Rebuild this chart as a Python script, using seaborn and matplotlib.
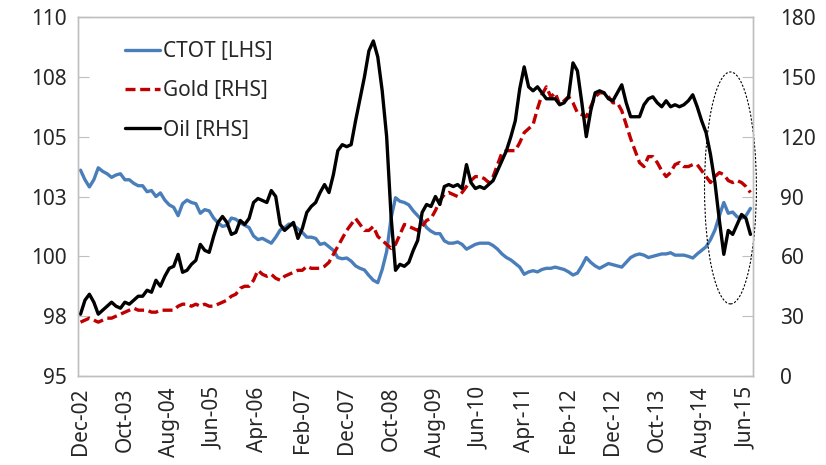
import numpy as np
import pandas as pd
import seaborn as sns
import matplotlib.pyplot as plt
from matplotlib.patches import Ellipse

# monthly series, Dec-02 .. Jul-15 (152 months)
ctot = [103.6, 103.2, 102.9, 103.2, 103.7, 103.55, 103.45, 103.3, 103.4, 103.45,
        103.2, 103.2, 103.05, 102.95, 102.95, 102.7, 102.75, 102.5, 102.65, 102.35,
        102.15, 102.05, 101.7, 102.2, 102.35, 102.25, 102.2, 101.8, 101.95, 101.9,
        101.6, 101.4, 101.25, 101.3, 101.6, 101.55, 101.4, 101.3, 101.2, 100.85,
        100.7, 100.75, 100.65, 100.55, 100.8, 101.1, 101.2, 101.35, 101.3, 101.15,
        101.0, 100.8, 100.8, 100.75, 100.5, 100.55, 100.4, 100.25, 99.95, 99.9,
        99.93, 99.8, 99.6, 99.5, 99.43, 99.2, 99.0, 98.9, 99.45, 100.2,
        101.6, 102.45, 102.3, 102.25, 102.15, 101.9, 101.7, 101.5, 101.2, 101.05,
        100.95, 100.95, 100.65, 100.55, 100.55, 100.6, 100.5, 100.3, 100.4, 100.5,
        100.55,
        100.55, 100.55, 100.45, 100.3, 100.1, 99.95, 99.85, 99.7, 99.55, 99.25,
        99.35, 99.4, 99.35, 99.45, 99.5, 99.5, 99.55, 99.5, 99.45, 99.35,
        99.22, 99.3, 99.6, 99.95, 99.75, 99.6, 99.5, 99.6, 99.7, 99.65,
        99.6, 99.55, 99.75, 99.95, 100.05, 100.1, 100.05, 99.95, 100.0, 100.05,
        100.1, 100.1, 100.15, 100.05, 100.05, 100.05, 100.0, 99.93, 100.1, 100.25,
        100.4, 100.7, 101.1, 101.7, 102.25, 101.8, 101.85, 101.65, 101.6, 101.7, 102.0]

gold = [27, 28, 29, 28, 27, 28, 29, 29, 30, 31,
        32, 33, 34, 33, 33, 33, 32, 32, 33, 33,
        33, 33, 35, 36, 36, 35, 36, 35, 36, 35,
        35, 36, 37, 38, 40, 41, 44, 45, 45, 48,
        53, 51, 50, 51, 49, 48, 50, 51, 52, 53,
        53, 55, 54, 54, 54, 55, 57, 61, 65, 69,
        73, 76, 79, 76, 73, 73, 75, 70, 68, 66,
        64, 66, 71, 76, 75, 74, 73, 75, 78, 79,
        83, 88, 91, 92, 91, 90, 92, 95, 98, 100,
        100,
        99, 97, 100, 106, 112, 113, 113, 113, 117, 122,
        124, 126, 134, 141, 145, 140, 142, 136, 138, 140,
        137, 132, 131, 130, 135, 140, 142, 142, 140, 137,
        137, 133, 126, 119, 113, 107, 105, 110, 110, 107,
        103, 100, 102, 106, 107, 105, 105, 106, 106, 103,
        100, 97, 100, 102, 101, 98, 97, 98, 97, 95, 92]

oil = [31, 38, 41, 37, 31, 33, 35, 37, 35, 34,
       37, 36, 38, 40, 40, 43, 42, 48, 45, 50,
       54, 55, 61, 52, 53, 56, 58, 66, 63, 62,
       70, 77, 80, 77, 71, 72, 78, 76, 79, 87,
       89, 88, 87, 93, 90, 76, 73, 75, 77, 69,
       74, 82, 85, 87, 92, 96, 92, 101, 113, 116,
       115, 116, 128, 139, 150, 163, 168, 160, 143, 120,
       80, 53, 56, 55, 57, 63, 68, 82, 86, 85,
       90, 86, 95, 96, 95, 96, 94, 106, 97, 94,
       95,
       94, 96, 98, 103, 108, 113, 120, 128, 144, 155,
       145, 143, 145, 142, 139, 139, 139, 136, 137, 140,
       157, 153, 137, 120, 133, 142, 143, 142, 139, 138,
       142, 146, 137, 130, 130, 130, 136, 139, 140, 137,
       135, 138, 135, 136, 135, 136, 138, 141, 135, 128,
       122, 111, 97, 78, 61, 73, 71, 76, 81, 79, 71]

months = pd.date_range("2002-12-01", periods=len(ctot), freq="MS").strftime("%b-%y")
left_ticks = [95, 97.5, 100, 102.5, 105, 107.5, 110]
left_labels = ["95", "98", "100", "103", "105", "108", "110"]
right_ticks = [0, 30, 60, 90, 120, 150, 180]

df = pd.DataFrame({"idx": np.arange(len(ctot)), "ctot": ctot, "gold": gold, "oil": oil})

sns.set_style("white")
plt.rcParams["font.family"] = ["Noto Sans", "DejaVu Sans"]
plt.rcParams["font.size"] = 15

fig = plt.figure(figsize=(8.26, 4.65), dpi=100)
ax = fig.add_axes([0.0948, 0.1914, 0.8164, 0.772])
ax2 = ax.twinx()

sns.lineplot(data=df, x="idx", y="ctot", ax=ax, color="#4A7EBB", lw=2.4, label="CTOT [LHS]", legend=False)
sns.lineplot(data=df, x="idx", y="gold", ax=ax2, color="#C00000", lw=2.4, label="Gold [RHS]", legend=False,
             linestyle=(0, (3, 1.4)))
sns.lineplot(data=df, x="idx", y="oil", ax=ax2, color="black", lw=2.4, label="Oil [RHS]", legend=False)

ax.set_xlim(-0.5, len(ctot) - 0.5)
ax.set_ylim(95, 110)
ax2.set_ylim(0, 180)
ax.set_yticks(left_ticks)
ax.set_yticklabels(left_labels)
ax2.set_yticks(right_ticks)

pos = np.arange(0, len(ctot), 10)
ax.set_xticks(pos)
ax.set_xticklabels([months[i] for i in pos], rotation=90)
ax.set_xticks(np.arange(9.5, len(ctot), 10), minor=True)
ax.tick_params(axis="x", which="major", length=0, pad=8)
ax.tick_params(axis="x", which="minor", direction="in", length=8, color="#BFBFBF", width=1)
ax.tick_params(axis="y", direction="in", length=8, color="#BFBFBF", pad=8)
ax2.tick_params(axis="y", direction="in", length=8, color="#BFBFBF", pad=20)

for a in (ax, ax2):
    a.set_xlabel("")
    a.set_ylabel("")
    for s in a.spines.values():
        s.set_color("#BFBFBF")
        s.set_linewidth(1)

ell = Ellipse((146.5, 94.3), 11.7, 116.3, fill=False, ls=(0, (2, 1.5)), lw=0.8, color="black", clip_on=False)
ax2.add_patch(ell)

h1, l1 = ax.get_legend_handles_labels()
h2, l2 = ax2.get_legend_handles_labels()
ax2.legend(h1 + h2, l1 + l2, loc="upper left", bbox_to_anchor=(0.054, 0.962), frameon=False,
           handlelength=1.65, handletextpad=0.15, labelspacing=0.88, borderpad=0, fontsize=15)

fig.savefig("out.png", dpi=100)
